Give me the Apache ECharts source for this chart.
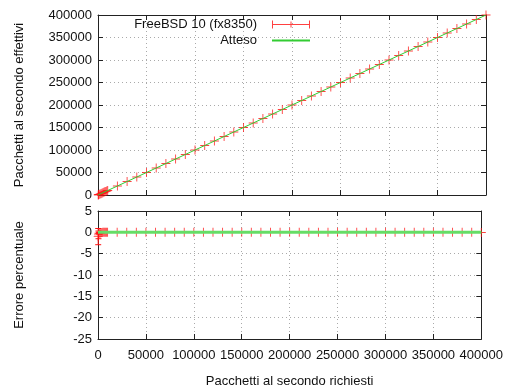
<!DOCTYPE html>
<html>
<head>
<meta charset="utf-8">
<script src="https://cdn.jsdelivr.net/npm/echarts@6/dist/echarts.min.js"></script>
<style>
  html, body { margin: 0; background: #fff; }
  #chart { width: 506px; height: 389px; }
</style>
</head>
<body>
<div id="chart"></div>
<script>
// pacchetti al secondo richiesti
const requested = [200, 500, 1000, 2000, 3000, 4000, 5000, 6000, 7000, 8000, 9000, 10000,
  20000, 30000, 40000, 50000, 60000, 70000, 80000, 90000, 100000, 110000, 120000, 130000,
  140000, 150000, 160000, 170000, 180000, 190000, 200000, 210000, 220000, 230000, 240000,
  250000, 260000, 270000, 280000, 290000, 300000, 310000, 320000, 330000, 340000, 350000,
  360000, 370000, 380000, 390000, 400000];
// pacchetti al secondo effettivi
const effective = [198, 497, 998, 1996, 2997, 3998, 4999, 6000, 7000, 8000, 9000, 10000,
  20000, 30000, 40000, 50000, 60000, 70000, 80000, 90000, 100000, 110000, 120000, 130000,
  140000, 150000, 160000, 170000, 180000, 190000, 200000, 210000, 220000, 230000, 240000,
  250000, 260000, 270000, 280000, 290000, 300000, 310000, 320000, 330000, 340000, 350000,
  360000, 370000, 380000, 390000, 399900];
// errore percentuale
const errorPct = [-1.0, -0.6, -0.2, -0.2, -0.1, -0.05, 0, 0, 0, 0, 0, 0,
  0, 0, 0, 0, 0, 0, 0, 0, 0, 0, 0, 0,
  0, 0, 0, 0, 0, 0, 0, 0, 0, 0, 0,
  0, 0, 0, 0, 0, 0, 0, 0, 0, 0, 0,
  0, 0, 0, 0, -0.05];
// semiampiezza barre d'errore (solo i primi punti, gli altri ~0)
const errorHalf = [1.9, 0.9, 0.2, 0.1, 0.1];
const expectedX = [0, 400000];
const expectedY = [0, 400000];
const expectedPct = [0, 0];

const chart = echarts.init(document.getElementById('chart'));
const font = 'Liberation Sans, Arial, sans-serif';
const fs = 13;
const red = '#ff1010';
const green = '#33cc33';

const plus = 'path://M-0.5,-5h1v10h-1z M-5,-0.5h10v1h-10z';
const errIcon = 'path://M0,3.95h0.05v0.1h-0.05z M10,0h1v8h-1z M47,0h1v8h-1z M10,3.5h38v1h-38z M28.5,1h1v6h-1z';
const lineIcon = 'path://M0,3.95h0.05v0.1h-0.05z M10,3h38v2h-38z';

const grid = [
  { left: 98, right: 20, top: 15, height: 180 },
  { left: 98, right: 20, top: 211, height: 128 }
];

const plain = v => String(v);

function mainX(gridIndex, showLabel) {
  return {
    type: 'value', gridIndex, min: 0, max: 400000, interval: 50000,
    axisLine: { show: true, onZero: false, lineStyle: { color: '#222', width: 1 } },
    axisTick: { show: true, inside: true, length: 5, lineStyle: { color: '#222' } },
    axisLabel: { show: showLabel, color: '#111', fontFamily: font, fontSize: fs, margin: 10, formatter: plain },
    splitLine: { show: true, lineStyle: { color: '#aaa', type: [1, 3] } }
  };
}
function mirrorX(gridIndex) {
  return {
    type: 'value', gridIndex, position: 'top', min: 0, max: 400000, interval: 50000,
    axisLine: { show: true, onZero: false, lineStyle: { color: '#222', width: 1 } },
    axisTick: { show: true, inside: true, length: 5, lineStyle: { color: '#222' } },
    axisLabel: { show: false }, splitLine: { show: false }
  };
}
function mainY(gridIndex, min, max, interval, name) {
  return {
    type: 'value', gridIndex, min, max, interval,
    name, nameLocation: 'middle', nameGap: 72,
    nameTextStyle: { color: '#111', fontFamily: font, fontSize: fs },
    axisLine: { show: true, onZero: false, lineStyle: { color: '#222', width: 1 } },
    axisTick: { show: true, inside: true, length: 5, lineStyle: { color: '#222' } },
    axisLabel: { color: '#111', fontFamily: font, fontSize: fs, margin: 6, formatter: plain },
    splitLine: { show: true, lineStyle: { color: '#aaa', type: [1, 3] } }
  };
}
function mirrorY(gridIndex, min, max, interval) {
  return {
    type: 'value', gridIndex, position: 'right', min, max, interval,
    axisLine: { show: true, onZero: false, lineStyle: { color: '#222', width: 1 } },
    axisTick: { show: true, inside: true, length: 5, lineStyle: { color: '#222' } },
    axisLabel: { show: false }, splitLine: { show: false }
  };
}

const xAxis = [mainX(0, false), mirrorX(0), mainX(1, true), mirrorX(1)];
xAxis[2].name = 'Pacchetti al secondo richiesti';
xAxis[2].nameLocation = 'middle';
xAxis[2].nameGap = 36;
xAxis[2].nameTextStyle = { color: '#111', fontFamily: font, fontSize: fs };

const yAxis = [
  mainY(0, 0, 400000, 50000, 'Pacchetti al secondo effettivi'),
  mirrorY(0, 0, 400000, 50000),
  mainY(1, -25, 5, 5, 'Errore percentuale'),
  mirrorY(1, -25, 5, 5)
];

const topPoints = requested.map((x, i) => [x, effective[i]]);
const bottomPoints = requested.map((x, i) => [x, errorPct[i]]);
const bars = requested.map((x, i) => [x, errorPct[i] - (errorHalf[i] || 0), errorPct[i] + (errorHalf[i] || 0)]);

chart.setOption({
  animation: false,
  backgroundColor: '#fff',
  grid,
  xAxis,
  yAxis,
  legend: {
    orient: 'vertical', align: 'right', right: 196, top: 18, padding: 0,
    itemWidth: 48, itemHeight: 8, itemGap: 3, selectedMode: false,
    textStyle: { color: '#111', fontFamily: font, fontSize: fs },
    data: [
      { name: 'FreeBSD 10 (fx8350)', icon: errIcon },
      { name: 'Atteso', icon: lineIcon }
    ]
  },
  series: [
    {
      name: 'FreeBSD 10 (fx8350)', type: 'scatter', xAxisIndex: 0, yAxisIndex: 0,
      symbol: plus, symbolSize: 9, clip: false,
      itemStyle: { color: red, opacity: 0.8 },
      data: topPoints
    },
    {
      name: 'FreeBSD 10 (fx8350)', type: 'custom', xAxisIndex: 2, yAxisIndex: 2,
      renderItem: function (params, api) {
        const x = api.value(0);
        const lo = api.coord([x, api.value(1)]);
        const hi = api.coord([x, api.value(2)]);
        const s = { stroke: red, lineWidth: 1 };
        return {
          type: 'group',
          children: [
            { type: 'line', shape: { x1: lo[0], y1: lo[1], x2: hi[0], y2: hi[1] }, style: s },
            { type: 'line', shape: { x1: lo[0] - 3, y1: lo[1], x2: lo[0] + 3, y2: lo[1] }, style: s },
            { type: 'line', shape: { x1: hi[0] - 3, y1: hi[1], x2: hi[0] + 3, y2: hi[1] }, style: s }
          ]
        };
      },
      encode: { x: 0, y: [1, 2] },
      data: bars.slice(0, errorHalf.length)
    },
    {
      name: 'FreeBSD 10 (fx8350)', type: 'scatter', xAxisIndex: 2, yAxisIndex: 2,
      symbol: plus, symbolSize: 9, clip: false,
      itemStyle: { color: red, opacity: 0.8 },
      data: bottomPoints
    },
    {
      name: 'Atteso', type: 'line', xAxisIndex: 0, yAxisIndex: 0,
      showSymbol: false, lineStyle: { color: green, width: 1 }, itemStyle: { color: green },
      data: expectedX.map((x, i) => [x, expectedY[i]])
    },
    {
      name: 'Atteso', type: 'line', xAxisIndex: 2, yAxisIndex: 2,
      showSymbol: false, lineStyle: { color: '#66dd66', width: 3 }, itemStyle: { color: green },
      data: expectedX.map((x, i) => [x, expectedPct[i]])
    }
  ]
});
</script>
</body>
</html>
